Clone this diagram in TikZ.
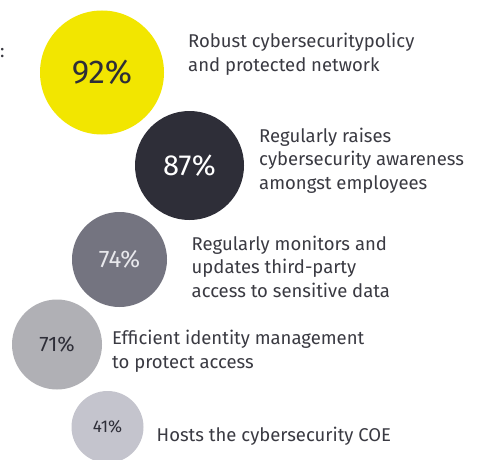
\documentclass[tikz,border=0pt]{standalone}
\usepackage{fontspec}
\setmainfont{Fira Sans}
\definecolor{eyyellow}{HTML}{F2E600}
\definecolor{eydark}{HTML}{2E2E38}
\definecolor{eymid}{HTML}{747480}
\definecolor{eylight}{HTML}{B0B0B5}
\definecolor{eypale}{HTML}{C4C4CD}
\definecolor{labelgray}{HTML}{3A3A42}
\definecolor{pctlight}{HTML}{E8E8EC}
\tikzset{
  x=1pt, y=-1pt,
  bubble/.style={circle, inner sep=0pt, minimum size=#1},
  label text/.style={anchor=base west, inner sep=0pt, align=left, text=labelgray,
    font=\fontsize{18.5}{23.4}\selectfont},
}
\begin{document}
\begin{tikzpicture}
\useasboundingbox (0,0) rectangle (487,460);
\fill[white] (0,0) rectangle (487,460);
% bubbles
\node[bubble=124pt, fill=eyyellow, text=eydark, font=\fontsize{33}{33}\selectfont] (b1) at (102,72.5) {92\%};
\node[bubble=109pt, fill=eydark, text=white, font=\fontsize{29}{29}\selectfont] (b2) at (189.5,165.5) {87\%};
\node[bubble=95pt, fill=eymid, text=pctlight, font=\fontsize{24}{24}\selectfont] (b3) at (119.5,259.5) {74\%};
\node[bubble=90pt, fill=eylight, text=eydark, font=\fontsize{21}{21}\selectfont] (b4) at (57,344.5) {71\%};
\node[bubble=72pt, fill=eypale, text=eydark, font=\fontsize{17}{17}\selectfont] (b5) at (107.5,427) {41\%};
% labels (anchored at the baseline of their last line)
\node[label text] (t1) at (188,71) {Robust cybersecuritypolicy\\and protected network};
\node[label text] (t2) at (259,189) {Regularly raises\\cybersecurity awareness\\amongst employees};
\node[label text] (t3) at (191.5,297) {Regularly monitors and\\updates third-party\\access to sensitive data};
\node[label text] (t4) at (112,368) {Efficient identity management\\to protect access};
\node[label text] (t5) at (156.5,441) {Hosts the cybersecurity COE};
\node[label text] (colon) at (0,58) {:};
\end{tikzpicture}
\end{document}
